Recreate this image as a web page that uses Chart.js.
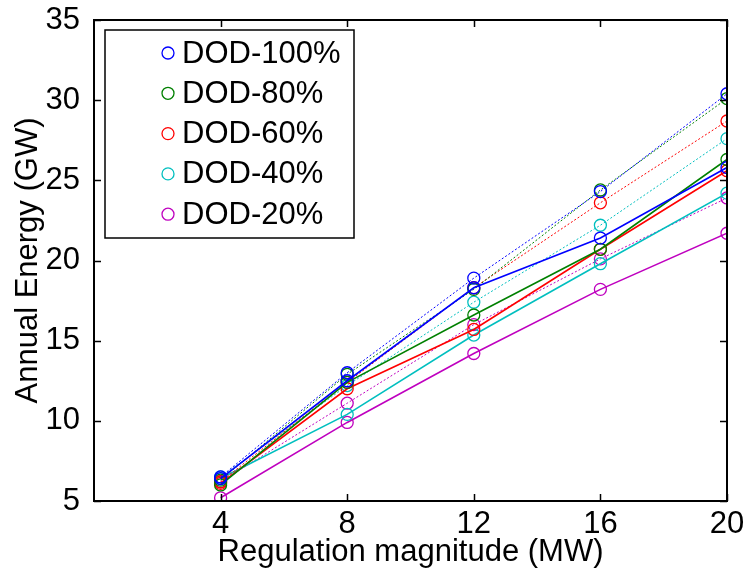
<!DOCTYPE html>
<html lang="en">
<head>
<meta charset="UTF-8">
<title>Annual Energy</title>
<script src="https://cdn.jsdelivr.net/npm/chart.js"></script>
<style>
    body { margin: 0; background: #fff; }
    .box { width: 746px; height: 581px; position: relative; }
</style>
</head>
<body>
<div class="box"><canvas id="grafico"></canvas></div>

<script>
    // regulation magnitude (MW)
    const magnitudes = [4, 8, 12, 16, 20];
    const xTicks = [4, 8, 12, 16, 20];
    const yTicks = [5, 10, 15, 20, 25, 30, 35];

    const nomes = ['DOD-100%', 'DOD-80%', 'DOD-60%', 'DOD-40%', 'DOD-20%'];
    const cores = ['#0000FF', '#008000', '#FF0000', '#00BFBF', '#BF00BF'];

    // dotted lines (upper set)
    const dod100Pont = [6.5, 13.0, 18.9, 24.3, 30.4];
    const dod80Pont  = [6.3, 12.9, 18.2, 24.4, 30.1];
    const dod60Pont  = [6.2, 12.4, 18.3, 23.6, 28.7];
    const dod40Pont  = [6.5, 12.2, 17.4, 22.2, 27.6];
    const dod20Pont  = [6.2, 11.1, 16.0, 20.1, 23.9];

    // solid lines (lower set)
    const dod100 = [6.4, 12.5, 18.3, 21.4, 25.8];
    const dod80  = [6.0, 12.4, 16.6, 20.7, 26.3];
    const dod60  = [6.1, 12.0, 15.7, 20.7, 25.6];
    const dod40  = [6.4, 10.4, 15.35, 19.8, 24.2];
    const dod20  = [5.2, 9.9, 14.2, 18.2, 21.7];

    const pontilhadas = [dod100Pont, dod80Pont, dod60Pont, dod40Pont, dod20Pont];
    const solidas = [dod100, dod80, dod60, dod40, dod20];

    const fonte = "'Liberation Sans', Arial, sans-serif";
    const tamFonte = 31;

    function pontos(valores) {
        return valores.map((v, i) => ({ x: magnitudes[i], y: v }));
    }

    const datasets = [];
    for (let i = 0; i < nomes.length; i++) {
        datasets.push({
            label: nomes[i],
            data: pontos(pontilhadas[i]),
            borderColor: cores[i],
            borderWidth: 1,
            borderDash: [2, 2],
            pointStyle: 'circle',
            pointRadius: 6,
            pointBorderWidth: 1.3,
            pointBackgroundColor: 'rgba(0,0,0,0)',
            pointBorderColor: cores[i],
            fill: false,
            tension: 0
        });
        datasets.push({
            label: nomes[i] + ' ',
            data: pontos(solidas[i]),
            borderColor: cores[i],
            borderWidth: 1.6,
            pointStyle: 'circle',
            pointRadius: 6,
            pointBorderWidth: 1.3,
            pointBackgroundColor: 'rgba(0,0,0,0)',
            pointBorderColor: cores[i],
            fill: false,
            tension: 0
        });
    }

    function semPadding(s) {
        s.paddingTop = 0;
        s.paddingBottom = 0;
        s.paddingLeft = 0;
        s.paddingRight = 0;
    }

    // axes box with inward ticks, like the original figure
    const caixaEixos = {
        id: 'caixaEixos',
        afterDatasetsDraw(chart) {
            const { ctx, chartArea: a, scales } = chart;
            ctx.save();
            ctx.strokeStyle = '#000';
            ctx.lineWidth = 1.5;
            ctx.beginPath();
            xTicks.forEach(t => {
                const px = Math.round(scales.x.getPixelForValue(t)) + 0.5;
                ctx.moveTo(px, a.bottom); ctx.lineTo(px, a.bottom - 7);
                ctx.moveTo(px, a.top); ctx.lineTo(px, a.top + 7);
            });
            yTicks.forEach(t => {
                const py = Math.round(scales.y.getPixelForValue(t)) + 0.5;
                ctx.moveTo(a.left, py); ctx.lineTo(a.left + 7, py);
                ctx.moveTo(a.right, py); ctx.lineTo(a.right - 7, py);
            });
            ctx.stroke();
            ctx.lineWidth = 2;
            ctx.strokeRect(a.left, a.top, a.right - a.left, a.bottom - a.top);
            ctx.restore();
        },
        afterDraw(chart) {
            const ctx = chart.ctx;
            ctx.save();
            ctx.fillStyle = '#fff';
            ctx.fillRect(105, 30, 249, 208);
            ctx.strokeStyle = '#000';
            ctx.lineWidth = 1.5;
            ctx.strokeRect(105, 30, 249, 208);
            ctx.font = tamFonte + 'px ' + fonte;
            ctx.textBaseline = 'middle';
            ctx.textAlign = 'left';
            nomes.forEach((n, i) => {
                const y = 53 + i * 40.3;
                ctx.beginPath();
                ctx.arc(168, y, 6, 0, Math.PI * 2);
                ctx.strokeStyle = cores[i];
                ctx.lineWidth = 1.3;
                ctx.stroke();
                ctx.fillStyle = '#000';
                ctx.fillText(n, 182, y + 1);
            });
            ctx.restore();
        }
    };

    const config = {
        type: 'line',
        data: { datasets },
        options: {
            responsive: true,
            maintainAspectRatio: false,
            animation: false,
            layout: { padding: { top: 20, right: 19, left: 0, bottom: 0 } },
            plugins: {
                legend: { display: false },
                tooltip: { enabled: false }
            },
            scales: {
                x: {
                    type: 'linear',
                    min: 0,
                    max: 20,
                    afterBuildTicks: s => { s.ticks = xTicks.map(v => ({ value: v })); },
                    afterFit: s => { s.height = 80; semPadding(s); },
                    grid: { display: false, drawTicks: false },
                    border: { display: false },
                    ticks: { color: '#000', padding: 5, font: { family: fonte, size: tamFonte } },
                    title: {
                        display: true,
                        text: 'Regulation magnitude (MW)',
                        color: '#000',
                        padding: { bottom: 10 },
                        font: { family: fonte, size: tamFonte }
                    }
                },
                y: {
                    min: 5,
                    max: 35,
                    afterBuildTicks: s => { s.ticks = yTicks.map(v => ({ value: v })); },
                    afterFit: s => { s.width = 94; semPadding(s); },
                    grid: { display: false, drawTicks: false },
                    border: { display: false },
                    ticks: { color: '#000', padding: 14, font: { family: fonte, size: tamFonte } },
                    title: {
                        display: true,
                        text: 'Annual Energy (GW)',
                        color: '#000',
                        padding: { top: 10 },
                        font: { family: fonte, size: tamFonte }
                    }
                }
            }
        },
        plugins: [caixaEixos]
    };

    const ctx = document.getElementById('grafico').getContext('2d');
    const grafico = new Chart(ctx, config);
</script>
</body>
</html>
